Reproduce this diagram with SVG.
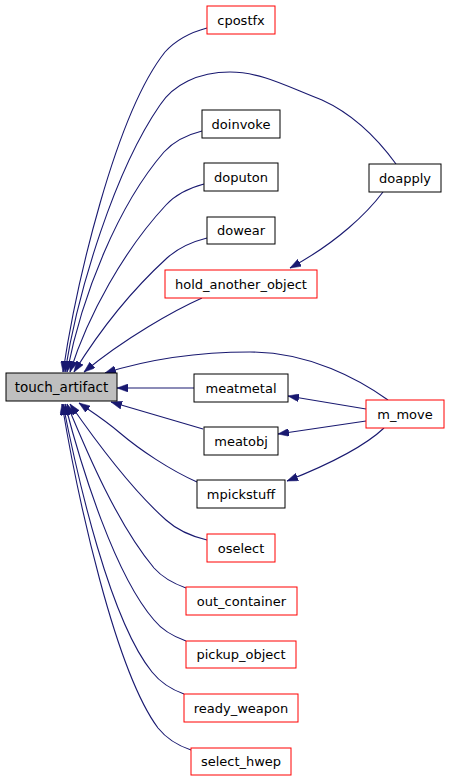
<svg xmlns="http://www.w3.org/2000/svg" width="451" height="781" viewBox="0 0 451 781">
<defs>
<marker id="ah" viewBox="0 0 11 8" refX="11" refY="4" markerWidth="11" markerHeight="8" markerUnits="userSpaceOnUse" orient="auto">
<path d="M0,0 L11,4 L0,8 z" fill="#191970" stroke="#191970" stroke-width="0.5"/>
</marker>
<style>
.e{fill:none;stroke:#191970;stroke-width:1.1;marker-end:url(#ah)}
.n rect{fill:#ffffff;stroke:#000000;stroke-width:1}
.r rect{fill:#ffffff;stroke:#ff0000;stroke-width:1}
.root rect{fill:#bfbfbf;stroke:#000000;stroke-width:1}
text{font-family:"DejaVu Sans",sans-serif;font-size:13px;text-anchor:middle;fill:#000}
</style>
</defs>
<rect width="451" height="781" fill="#ffffff"/>
<g id="connectors">
<path class="e" d="M207,28 C188,33 175,41 165,52 C115,115 76,285 63,372"/>
<path class="e" d="M396,164 C380,142 355,115 322,100 C290,88 262,72 230,72 C198,72 173,85 160,105 C115,170 78,290 65,372"/>
<path class="e" d="M202,131 C186,135 174,141 164,152 C118,205 82,295 67,372"/>
<path class="e" d="M204,184 C189,188 176,194 166,205 C124,250 88,315 70,372"/>
<path class="e" d="M207,238 C191,242 178,248 167,258 C132,290 100,330 74,372"/>
<path class="e" d="M202,298 C175,310 125,338 84,372"/>
<path class="e" d="M388,400 C360,380 310,352 250,352 C190,352 140,362 105,373"/>
<path class="e" d="M194,388 L117,388"/>
<path class="e" d="M203,429 L111,402"/>
<path class="e" d="M197,482 C170,470 140,450 120,433 C105,420 92,412 79,403"/>
<path class="e" d="M207,540 C190,536 176,529 166,520 C130,488 95,440 70,404"/>
<path class="e" d="M186,588 C172,583 162,577 154,568 C118,525 88,455 67,404"/>
<path class="e" d="M186,641 C172,636 162,630 154,620 C115,575 82,470 65,404"/>
<path class="e" d="M184,694 C170,689 160,682 152,672 C110,620 78,480 63,404"/>
<path class="e" d="M191,750 C176,745 166,738 158,728 C115,670 78,500 62,404"/>
<path class="e" d="M383,192 C368,212 338,242 290,268"/>
<path class="e" d="M366,409 L288,396"/>
<path class="e" d="M366,421 L278,434"/>
<path class="e" d="M384,428 C365,446 335,462 287,481"/>
</g>
<g id="touch_artifact" class="root"><rect x="6" y="373" width="111" height="28"/><text x="61.5" y="391.5" style="font-size:13.5px">touch_artifact</text></g>
<g id="cpostfx" class="r"><rect x="207" y="6" width="68" height="28"/><text x="241" y="24.5">cpostfx</text></g>
<g id="doinvoke" class="n"><rect x="202" y="110" width="78" height="28"/><text x="241" y="128.5">doinvoke</text></g>
<g id="doputon" class="n"><rect x="204" y="163" width="74" height="28"/><text x="241" y="181.5">doputon</text></g>
<g id="dowear" class="n"><rect x="207" y="217" width="68" height="27"/><text x="241" y="235">dowear</text></g>
<g id="hold_another_object" class="r"><rect x="165" y="270" width="152" height="28"/><text x="241" y="288.5">hold_another_object</text></g>
<g id="doapply" class="n"><rect x="369" y="164" width="72" height="28"/><text x="405" y="182.5">doapply</text></g>
<g id="meatmetal" class="n"><rect x="194" y="374" width="94" height="28"/><text x="241" y="392.5">meatmetal</text></g>
<g id="m_move" class="r"><rect x="366" y="400" width="78" height="28"/><text x="405" y="418.5">m_move</text></g>
<g id="meatobj" class="n"><rect x="204" y="427" width="74" height="28"/><text x="241" y="445.5">meatobj</text></g>
<g id="mpickstuff" class="n"><rect x="197" y="480" width="88" height="28"/><text x="241" y="498.5">mpickstuff</text></g>
<g id="oselect" class="r"><rect x="207" y="534" width="68" height="28"/><text x="241" y="552.5">oselect</text></g>
<g id="out_container" class="r"><rect x="186" y="587" width="111" height="28"/><text x="241.5" y="605.5">out_container</text></g>
<g id="pickup_object" class="r"><rect x="186" y="641" width="110" height="27"/><text x="241" y="659">pickup_object</text></g>
<g id="ready_weapon" class="r"><rect x="184" y="694" width="114" height="28"/><text x="241" y="712.5">ready_weapon</text></g>
<g id="select_hwep" class="r"><rect x="191" y="748" width="100" height="27"/><text x="241" y="766">select_hwep</text></g>
</svg>
